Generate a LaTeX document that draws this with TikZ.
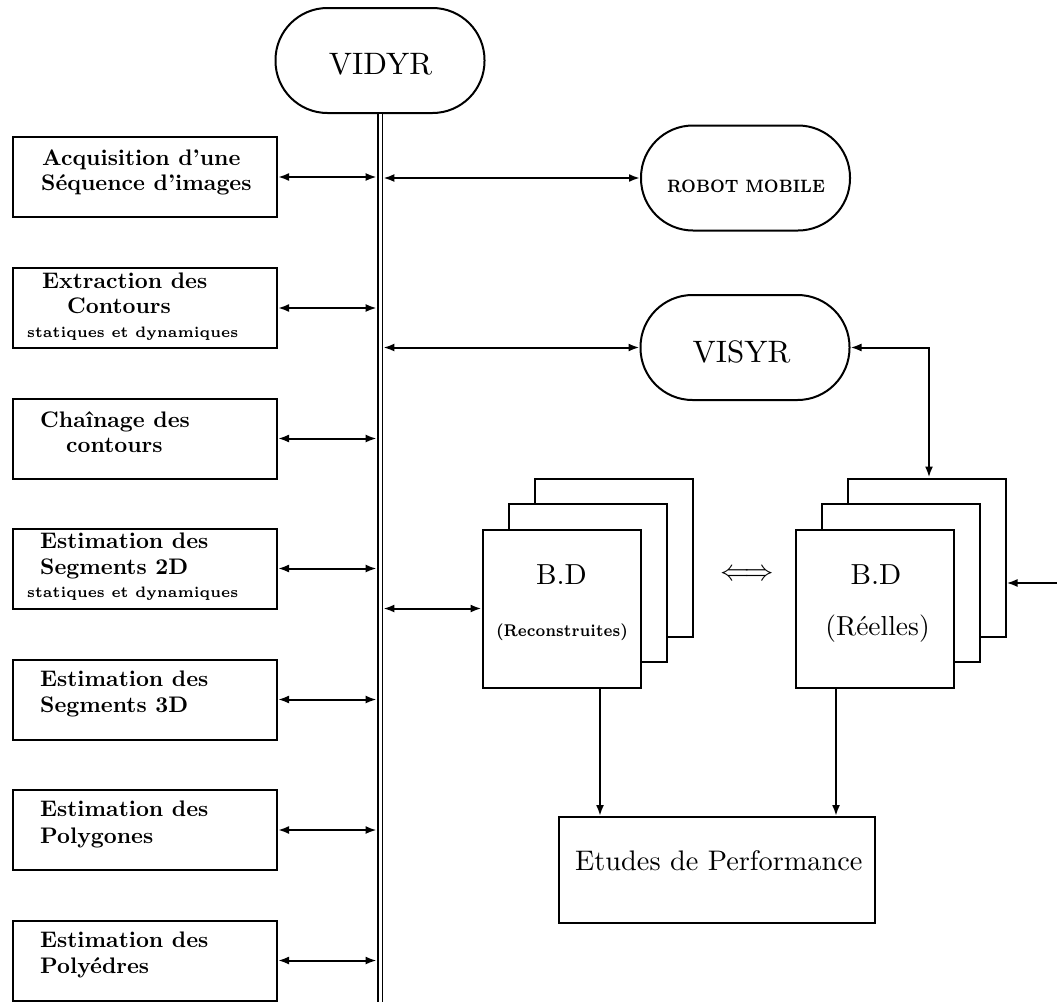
\documentclass[tikz,border=0pt]{standalone}
\usepackage{graphicx}
\usetikzlibrary{arrows.meta}
\newcommand{\rmtxt}[2]{\scalebox{#1}{\fontsize{10}{12}\selectfont #2}}
\newcommand{\bftxt}[1]{\scalebox{2.25}{\fontsize{10}{12}\selectfont\bfseries #1}}
\tikzset{
  lbox/.style={draw, line width=2pt, minimum width=264.5pt, minimum height=80pt, inner sep=0pt},
  stadium/.style={draw, line width=2pt, rounded corners=52pt, minimum width=209pt, minimum height=105pt, inner sep=0pt},
  page/.style={draw, fill=white, line width=2pt, minimum width=158pt, minimum height=158pt, inner sep=0pt},
  ltext/.style={anchor=base west, inner sep=0pt},
  conn/.style={line width=2pt, {Latex[length=11pt,width=8pt]}-{Latex[length=11pt,width=8pt]}},
  arr/.style={line width=2pt, -{Latex[length=11pt,width=8pt]}},
}
\begin{document}
\begin{tikzpicture}[x=1pt,y=-1pt]
\useasboundingbox (0,0) rectangle (1057,1001);

% bus
\node[stadium] (vidyr) at (380,60.5) {};
\node[inner sep=0pt] (vidyrtxt) at (380.5,64) {\rmtxt{3.1}{VIDYR}};
\coordinate (busbot) at (380,1006);
\draw[line width=1.8pt, double, double distance=3pt] (vidyr.south) -- (busbot);
\coordinate (busL) at (376.6,0);
\coordinate (busR) at (383.4,0);

% left boxes
\node[lbox] (b1) at (144.75,177) {};
\node[lbox] (b2) at (144.75,308) {};
\node[lbox] (b3) at (144.75,438.5) {};
\node[lbox] (b4) at (144.75,568.5) {};
\node[lbox] (b5) at (144.75,699.5) {};
\node[lbox] (b6) at (144.75,830) {};
\node[lbox] (b7) at (144.75,960.5) {};

\node[ltext] (t1a) at (42,165) {\bftxt{Acquisition d'une}};
\node[ltext] (t1b) at (41,190) {\bftxt{Séquence d'images}};
\node[ltext] (t2a) at (42,288) {\bftxt{Extraction des}};
\node[ltext] (t2b) at (67,313) {\bftxt{Contours}};
\node[ltext] (t2c) at (27,337) {\resizebox{211pt}{10.5pt}{\fontsize{5}{6}\selectfont\bfseries statiques et dynamiques}};
\node[ltext] (t3a) at (40,427) {\bftxt{Chaînage des}};
\node[ltext] (t3b) at (66,452) {\bftxt{contours}};
\node[ltext] (t4a) at (40,548) {\bftxt{Estimation des}};
\node[ltext] (t4b) at (40,574) {\bftxt{Segments 2D}};
\node[ltext] (t4c) at (27,597) {\resizebox{211pt}{10.5pt}{\fontsize{5}{6}\selectfont\bfseries statiques et dynamiques}};
\node[ltext] (t5a) at (40,686) {\bftxt{Estimation des}};
\node[ltext] (t5b) at (40,712) {\bftxt{Segments 3D}};
\node[ltext] (t6a) at (40,816) {\bftxt{Estimation des}};
\node[ltext] (t6b) at (40,843) {\bftxt{Polygones}};
\node[ltext] (t7a) at (40,947) {\bftxt{Estimation des}};
\node[ltext] (t7b) at (40,973) {\bftxt{Polyédres}};

\foreach \b in {b1,b2,b3,b4,b5,b6,b7}
  \draw[conn] (\b.east) -- (\b.east -| busL);

% right side stadiums
\node[stadium] (robot) at (745.5,178) {};
\node[inner sep=0pt] (robottxt) at (746,186) {\resizebox{158pt}{12.5pt}{\fontsize{7}{8}\selectfont\bfseries ROBOT MOBILE}};
\node[stadium] (visyr) at (745,347.5) {};
\node[inner sep=0pt] (visyrtxt) at (741.5,352) {\rmtxt{3.1}{VISYR}};

\draw[conn] (busR |- robot.west) -- (robot.west);
\draw[conn] (busR |- visyr.west) -- (visyr.west);

% B.D reconstruites stack
\node[page] (rc3) at (613.5,557.5) {};
\node[page] (rc2) at (587.5,583) {};
\node[page] (rc1) at (561.5,608.5) {};
\node[inner sep=0pt] (bd1) at (561.5,575) {\rmtxt{2.9}{B.D}};
\node[inner sep=0pt] (recon) at (562,632) {\resizebox*{132pt}{17pt}{\fontsize{6}{7}\selectfont\bfseries (Reconstruites)}};

% B.D reelles stack
\node[page] (rl3) at (926.5,557.5) {};
\node[page] (rl2) at (900.5,583) {};
\node[page] (rl1) at (874.5,608.5) {};
\node[inner sep=0pt] (bd2) at (876,575) {\rmtxt{2.9}{B.D}};
\node[inner sep=0pt] (reel) at (877.5,629) {\rmtxt{2.75}{(Réelles)}};

\node[inner sep=0pt] (equiv) at (747,575) {\resizebox{54pt}{!}{$\Longleftrightarrow$}};

\draw[conn] (busR |- rc1.west) -- (rc1.west);
\draw[conn] (visyr.east) -| ([xshift=2.5pt]rl3.north);
\coordinate (rin) at (1062,583);
\draw[arr] (rin) -- (rin -| rl3.east);

% performance
\node[draw, line width=2pt, minimum width=316pt, minimum height=106pt, inner sep=0pt] (perf) at (717,870) {};
\node[anchor=base west, inner sep=0pt] (perftxt) at (575,870) {\rmtxt{2.83}{Etudes de Performance}};

\coordinate (d1) at (600,0);
\coordinate (d2) at (836,0);
\draw[arr] (d1 |- rc1.south) -- (d1 |- perf.north);
\draw[arr] (d2 |- rl1.south) -- (d2 |- perf.north);
\end{tikzpicture}
\end{document}
